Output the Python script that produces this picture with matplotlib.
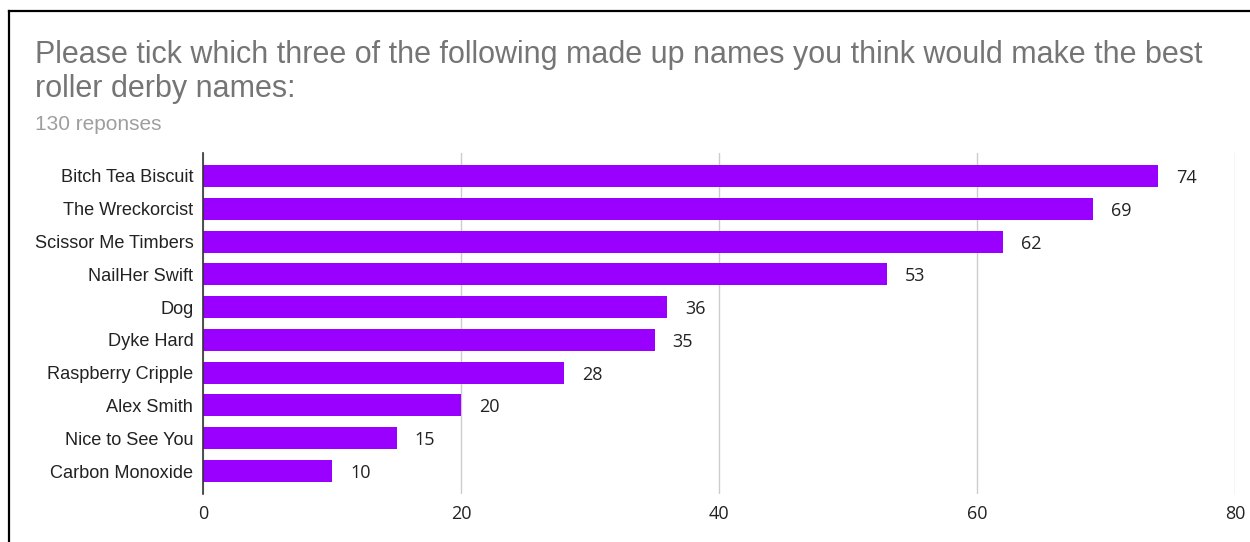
import matplotlib.pyplot as plt
from matplotlib.lines import Line2D

names = ["Bitch Tea Biscuit", "The Wreckorcist", "Scissor Me Timbers", "NailHer Swift",
         "Dog", "Dyke Hard", "Raspberry Cripple", "Alex Smith", "Nice to See You",
         "Carbon Monoxide"]
votes = [74, 69, 62, 53, 36, 35, 28, 20, 15, 10]
x_ticks = [0, 20, 40, 60, 80]

title = ("Please tick which three of the following made up names you think would make the best\n"
         "roller derby names:")
subtitle = "130 reponses"

W, H = 1250, 542
fig = plt.figure(figsize=(W / 100, H / 100), dpi=100)
fig.patch.set_facecolor("white")

# screenshot frame: left and top edges only
fig.add_artist(Line2D([9 / W, 9 / W], [0, 1 - 11 / H], color="black", lw=1.6))
fig.add_artist(Line2D([9 / W, 1], [1 - 11 / H, 1 - 11 / H], color="black", lw=1.6))

fig.text(35 / W, 1 - 40 / H, title, fontsize=22, color="#757575",
         family="Liberation Sans", va="top", linespacing=1.16)
fig.text(35 / W, 1 - 125 / H, subtitle, fontsize=15, color="#9e9e9e",
         family="Liberation Sans", va="center")

ax = fig.add_axes([203 / W, 1 - 494 / H, (1235 - 203) / W, (494 - 153) / H])
pos = list(range(len(names)))
ax.barh(pos, votes, height=0.67, color="#9900ff", zorder=3)
for p, v in zip(pos, votes):
    ax.text(v + 1.4, p, str(v), va="center_baseline", ha="left", fontsize=13,
            color="#222222", family="Open Sans")

ax.set_xlim(0, 80)
ax.set_ylim(len(names) - 0.3, -0.7)
ax.set_xticks(x_ticks)
ax.set_xticklabels([str(t) for t in x_ticks], family="Open Sans", fontsize=13, color="#222222")
ax.set_yticks(pos)
ax.set_yticklabels(names, family="Liberation Sans", fontsize=13.1, color="#222222")
ax.tick_params(length=0, pad=7)
ax.tick_params(axis="x", pad=8)
ax.grid(axis="x", color="#cccccc", lw=1, zorder=0)
for s in ["top", "right", "bottom"]:
    ax.spines[s].set_visible(False)
ax.spines["left"].set_color("#333333")
ax.spines["left"].set_linewidth(1.2)
ax.spines["left"].set_zorder(4)

fig.savefig("out.png", dpi=100)
